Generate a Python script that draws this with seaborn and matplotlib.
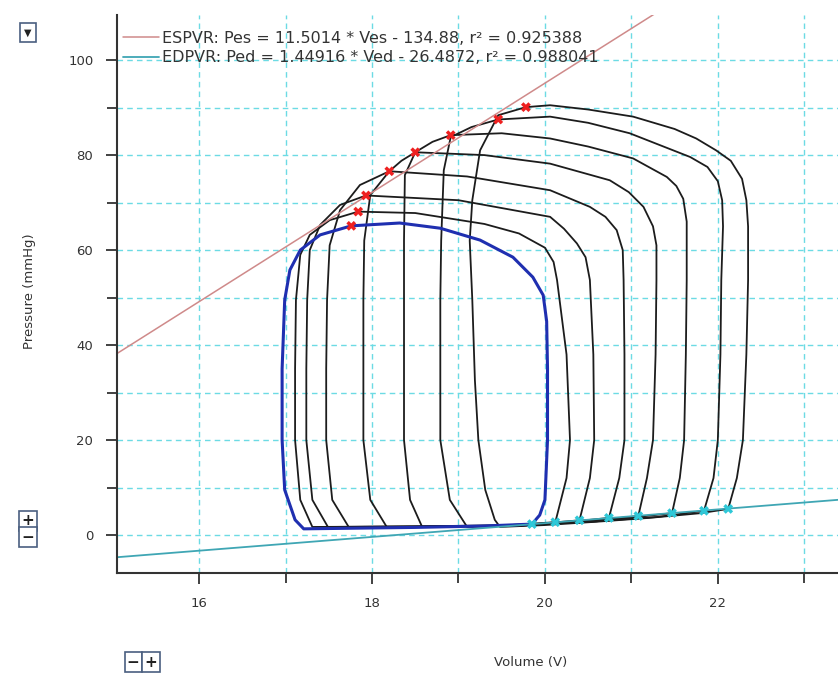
import numpy as np
import pandas as pd
import seaborn as sns
import matplotlib.pyplot as plt
from matplotlib.ticker import MultipleLocator

# end-systolic / end-diastolic points
esv_v = [19.78, 19.46, 18.91, 18.50, 18.20, 17.93, 17.84, 17.76]
esv_p = [90.1, 87.5, 84.2, 80.6, 76.6, 71.5, 68.1, 65.1]
edv_v = [22.12, 21.84, 21.47, 21.08, 20.74, 20.40, 20.12, 19.85]
edv_p = [5.5, 5.1, 4.6, 4.0, 3.6, 3.1, 2.7, 2.3]

# pressure-volume loops (black ones, largest first), then the blue one
loop_a_v = [22.12, 22.22, 22.29, 22.33, 22.35, 22.35, 22.33, 22.28, 22.15, 21.98, 21.75, 21.50, 21.02, 20.50,
            20.06, 19.78, 19.46, 19.25, 19.16, 19.13, 19.16, 19.19, 19.23, 19.31, 19.42, 19.48, 20.00, 20.60,
            21.20, 21.80, 22.12]
loop_a_p = [5.5, 12.0, 20.0, 38.0, 53.7, 65.0, 70.5, 75.0, 78.8, 81.0, 83.5, 85.5, 88.1, 89.6,
            90.5, 90.1, 88.4, 81.0, 70.5, 62.0, 49.5, 32.6, 20.0, 9.5, 3.2, 1.7, 2.1, 2.8,
            3.6, 4.6, 5.5]

loop_b_v = [21.84, 21.95, 22.00, 22.03, 22.04, 22.06, 22.05, 22.00, 21.88, 21.68, 20.98, 20.50, 20.06, 19.46,
            19.15, 18.91, 18.83, 18.80, 18.79, 18.79, 18.90, 19.10, 19.70, 20.60, 21.30, 21.84]
loop_b_p = [5.1, 12.0, 20.0, 38.0, 53.7, 65.0, 70.5, 74.5, 77.5, 79.6, 84.6, 86.8, 88.1, 87.5,
            85.9, 83.8, 76.8, 62.0, 49.5, 20.0, 7.4, 1.7, 2.0, 2.9, 3.8, 5.1]

loop_c_v = [21.47, 21.56, 21.61, 21.63, 21.64, 21.64, 21.60, 21.52, 21.41, 21.02, 20.50, 20.06, 19.50, 18.91,
            18.70, 18.50, 18.38, 18.37, 18.37, 18.37, 18.44, 18.58, 19.70, 20.60, 21.47]
loop_c_p = [4.6, 12.0, 20.0, 38.0, 53.7, 66.0, 70.8, 73.5, 75.4, 79.3, 81.8, 83.5, 84.6, 84.2,
            82.8, 80.6, 75.8, 62.0, 49.5, 20.0, 7.4, 1.7, 2.0, 2.9, 4.6]

loop_d_v = [21.08, 21.18, 21.25, 21.28, 21.29, 21.29, 21.25, 21.14, 20.97, 20.75, 20.06, 19.30, 18.50, 18.34,
            18.20, 17.98, 17.91, 17.90, 17.90, 17.98, 18.17, 19.00, 19.70, 20.50, 21.08]
loop_d_p = [4.0, 12.0, 20.0, 38.0, 53.7, 61.0, 65.0, 69.1, 72.2, 74.7, 78.2, 80.0, 80.6, 78.8,
            76.6, 71.6, 62.0, 49.5, 20.0, 7.4, 1.7, 1.8, 2.0, 2.9, 4.0]

loop_e_v = [20.74, 20.86, 20.92, 20.92, 20.91, 20.90, 20.83, 20.70, 20.52, 20.06, 19.10, 18.20, 17.86, 17.63,
            17.51, 17.48, 17.47, 17.47, 17.54, 17.73, 18.60, 19.70, 20.20, 20.74]
loop_e_p = [3.6, 12.0, 20.0, 38.0, 53.7, 60.0, 64.2, 67.0, 69.1, 72.6, 75.5, 76.6, 73.7, 68.4,
            61.0, 49.5, 35.0, 20.0, 7.4, 1.7, 1.8, 2.0, 2.6, 3.6]

loop_f_v = [20.40, 20.52, 20.57, 20.56, 20.52, 20.47, 20.37, 20.22, 20.06, 19.00, 17.93, 17.63, 17.40, 17.28,
            17.25, 17.24, 17.24, 17.31, 17.49, 18.50, 19.70, 20.40]
loop_f_p = [3.1, 12.0, 20.0, 38.0, 53.7, 58.5, 61.4, 64.5, 67.0, 70.5, 71.5, 69.5, 65.3, 60.0,
            49.5, 35.0, 20.0, 7.4, 1.7, 1.8, 2.0, 3.1]

loop_g_v = [20.12, 20.25, 20.29, 20.25, 20.14, 20.10, 20.00, 19.70, 19.30, 18.50, 17.84, 17.51, 17.28, 17.17,
            17.12, 17.11, 17.11, 17.17, 17.31, 18.50, 19.60, 20.12]
loop_g_p = [2.7, 12.0, 20.0, 38.0, 53.7, 57.5, 60.5, 63.5, 65.5, 67.8, 68.1, 66.3, 63.2, 59.0,
            49.5, 35.0, 20.0, 7.4, 1.7, 1.8, 2.1, 2.7]

loop_blue_v = [19.85, 19.94, 20.00, 20.03, 20.03, 20.02, 19.98, 19.86, 19.63, 19.25, 18.79, 18.32, 17.76, 17.40,
               17.17, 17.05, 16.99, 16.96, 16.96, 16.99, 17.11, 17.21, 18.50, 19.30, 19.85]
loop_blue_p = [2.3, 4.2, 7.4, 20.0, 35.0, 45.0, 50.5, 54.3, 58.5, 62.1, 64.6, 65.7, 65.1, 63.2,
               60.0, 55.8, 49.5, 35.0, 20.0, 9.5, 3.2, 1.3, 1.6, 1.9, 2.3]

# regression lines from the legend
espvr_slope, espvr_icpt, espvr_r2 = 11.5014, -134.88, 0.925388
edpvr_slope, edpvr_icpt, edpvr_r2 = 1.44916, -26.4872, 0.988041
espvr_vrange = [15.05, 21.3]
edpvr_vrange = [15.05, 23.39]

loops = [('a', loop_a_v, loop_a_p), ('b', loop_b_v, loop_b_p), ('c', loop_c_v, loop_c_p),
         ('d', loop_d_v, loop_d_p), ('e', loop_e_v, loop_e_p), ('f', loop_f_v, loop_f_p),
         ('g', loop_g_v, loop_g_p)]
df_black = pd.concat([pd.DataFrame({'loop': n, 'V': v, 'P': p}) for n, v, p in loops], ignore_index=True)
df_blue = pd.DataFrame({'V': loop_blue_v, 'P': loop_blue_p})

sns.set_theme(style='white')
plt.rcParams['font.family'] = ['DejaVu Sans']

fig = plt.figure(figsize=(8.38, 6.79), dpi=100)
ax = fig.add_axes([0.1396, 0.1561, 0.8604, 0.8218])

sns.lineplot(data=df_black, x='V', y='P', units='loop', estimator=None, sort=False,
             color='#1c1c1c', lw=1.3, ax=ax)
sns.lineplot(data=df_blue, x='V', y='P', estimator=None, sort=False, color='#1f2fb0', lw=2.2, ax=ax)

esp = np.array(espvr_vrange)
edp = np.array(edpvr_vrange)
ax.plot(esp, espvr_slope * esp + espvr_icpt, color='#cf8a8a', lw=1.1,
        label=f'ESPVR: Pes = {espvr_slope} * Ves - {abs(espvr_icpt)}, r\u00b2 = {espvr_r2}')
ax.plot(edp, edpvr_slope * edp + edpvr_icpt, color='#3fa6b4', lw=1.3,
        label=f'EDPVR: Ped = {edpvr_slope} * Ved - {abs(edpvr_icpt)}, r\u00b2 = {edpvr_r2}')

sns.scatterplot(x=esv_v, y=esv_p, marker='X', color='#ee2020', s=50, edgecolor='none', ax=ax, zorder=5)
sns.scatterplot(x=edv_v, y=edv_p, marker='X', color='#2ec8d8', s=50, edgecolor='none', ax=ax, zorder=5)

ax.set_xlim(15.05, 23.39)
ax.set_ylim(-8, 109.5)
ax.xaxis.set_major_locator(MultipleLocator(2))
ax.xaxis.set_minor_locator(MultipleLocator(1))
ax.yaxis.set_major_locator(MultipleLocator(20))
ax.yaxis.set_minor_locator(MultipleLocator(10))
ax.set_axisbelow(True)
ax.grid(which='both', color='#6cdbe4', linestyle=(0, (4, 3)), lw=1)

for s in ['top', 'right']:
    ax.spines[s].set_visible(False)
for s in ['left', 'bottom']:
    ax.spines[s].set_color('#333333')
    ax.spines[s].set_linewidth(1.5)
ax.tick_params(which='major', direction='out', length=8, width=1.3, color='#333333',
               pad=9, labelsize=9.5, labelcolor='#333333', left=True, bottom=True)
ax.tick_params(which='minor', direction='out', length=7, width=1.3, color='#333333', left=True, bottom=True)

ax.set_xlabel('Volume (V)', fontsize=9.5, color='#333333')
ax.set_ylabel('Pressure (mmHg)', fontsize=9.5, color='#333333')
ax.xaxis.set_label_coords(0.573, -0.148)
ax.yaxis.set_label_coords(-0.112, 0.505)

leg = ax.legend(loc='upper left', bbox_to_anchor=(0.008, 0.972), frameon=False, fontsize=11.5,
                handlelength=2.3, handletextpad=0.15, labelspacing=0.3, borderaxespad=0, borderpad=0)
for t in leg.get_texts():
    t.set_color('#333333')

# little zoom buttons of the original viewer
btn = dict(boxstyle='square,pad=0.15', fc='white', ec='#4a5f80', lw=1.2)
fig.text(0.0335, 0.952, '\u25bc', fontsize=7, ha='center', va='center', color='#222222',
         bbox=dict(boxstyle='square,pad=0.45', fc='white', ec='#4a5f80', lw=1.2))
fig.text(0.0335, 0.233, '+', fontsize=11, fontweight='bold', ha='center', va='center', color='#222222', bbox=btn)
fig.text(0.0335, 0.209, '\u2212', fontsize=11, fontweight='bold', ha='center', va='center', color='#222222', bbox=btn)
fig.text(0.159, 0.025, '\u2212', fontsize=11, fontweight='bold', ha='center', va='center', color='#222222', bbox=btn)
fig.text(0.180, 0.025, '+', fontsize=11, fontweight='bold', ha='center', va='center', color='#222222', bbox=btn)

fig.savefig('out.png', dpi=100, facecolor='white')
